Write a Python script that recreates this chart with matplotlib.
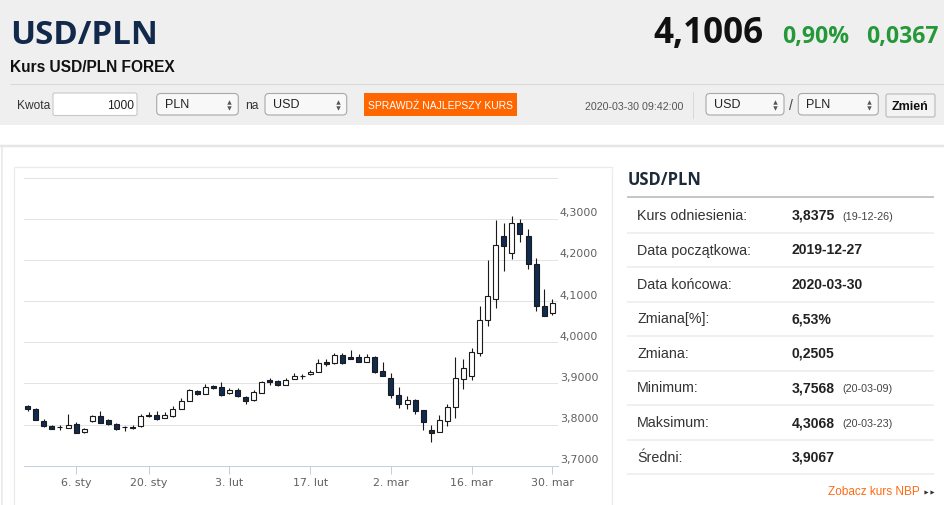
import numpy as np
import matplotlib
matplotlib.use('Agg')
import matplotlib.pyplot as plt
from matplotlib.patches import Rectangle, FancyBboxPatch
from matplotlib import transforms
from matplotlib import font_manager

# USD/PLN daily candles, 2019-12-27 .. 2020-03-30
opens = [3.845, 3.837, 3.809, 3.797, 3.795, 3.792, 3.802, 3.781, 3.808, 3.821,
         3.810, 3.801, 3.795, 3.795, 3.796, 3.824, 3.824, 3.816, 3.820, 3.838,
         3.858, 3.882, 3.875, 3.893, 3.892, 3.876, 3.885, 3.867, 3.860, 3.877,
         3.907, 3.905, 3.897, 3.911, 3.917, 3.922, 3.928, 3.953, 3.949, 3.968,
         3.965, 3.964, 3.953, 3.964, 3.930, 3.913, 3.872, 3.851, 3.859, 3.835,
         3.786, 3.783, 3.809, 3.842, 3.911, 3.919, 3.974, 4.055, 4.106, 4.258,
         4.217, 4.290, 4.258, 4.191, 4.087, 4.070]
highs = [3.848, 3.839, 3.814, 3.798, 3.799, 3.826, 3.806, 3.791, 3.824, 3.834,
         3.814, 3.803, 3.796, 3.800, 3.826, 3.831, 3.832, 3.830, 3.846, 3.865,
         3.887, 3.885, 3.899, 3.896, 3.904, 3.889, 3.888, 3.870, 3.883, 3.906,
         3.913, 3.909, 3.913, 3.925, 3.923, 3.932, 3.960, 3.960, 3.973, 3.973,
         3.982, 3.972, 3.972, 3.966, 3.952, 3.926, 3.892, 3.870, 3.861, 3.836,
         3.799, 3.824, 3.850, 3.964, 3.959, 3.986, 4.087, 4.199, 4.297, 4.289,
         4.307, 4.298, 4.276, 4.205, 4.130, 4.104]
lows = [3.832, 3.811, 3.795, 3.789, 3.787, 3.791, 3.779, 3.780, 3.807, 3.803,
        3.800, 3.787, 3.785, 3.790, 3.795, 3.818, 3.811, 3.815, 3.819, 3.837,
        3.857, 3.872, 3.874, 3.887, 3.870, 3.874, 3.867, 3.850, 3.858, 3.876,
        3.895, 3.894, 3.895, 3.910, 3.911, 3.920, 3.927, 3.943, 3.947, 3.947,
        3.959, 3.951, 3.951, 3.926, 3.918, 3.865, 3.839, 3.838, 3.826, 3.786,
        3.757, 3.782, 3.796, 3.817, 3.887, 3.908, 3.966, 4.040, 4.083, 4.172,
        4.201, 4.243, 4.178, 4.075, 4.063, 4.067]
closes = [3.837, 3.812, 3.796, 3.790, 3.793, 3.800, 3.780, 3.789, 3.821, 3.804,
          3.801, 3.790, 3.793, 3.792, 3.821, 3.821, 3.814, 3.822, 3.838, 3.858,
          3.883, 3.874, 3.892, 3.888, 3.871, 3.885, 3.869, 3.858, 3.879, 3.904,
          3.903, 3.896, 3.909, 3.918, 3.918, 3.928, 3.950, 3.947, 3.968, 3.949,
          3.960, 3.952, 3.964, 3.927, 3.919, 3.871, 3.851, 3.859, 3.834, 3.806,
          3.780, 3.810, 3.842, 3.912, 3.937, 3.975, 4.053, 4.112, 4.236, 4.233,
          4.290, 4.262, 4.191, 4.087, 4.063, 4.096]

tick_idx = [6, 15, 25, 35, 45, 55, 65]
tick_lbl = ['6. sty', '20. sty', '3. lut', '17. lut', '2. mar', '16. mar', '30. mar']
grid_levels = [3.8, 3.9, 4.0, 4.1, 4.2, 4.3, 4.4]
label_levels = [3.7, 3.8, 3.9, 4.0, 4.1, 4.2, 4.3]

stat_names = ['Kurs odniesienia:', 'Data początkowa:', 'Data końcowa:', 'Zmiana[%]:',
              'Zmiana:', 'Minimum:', 'Maksimum:', 'Średni:']
stat_values = ['3,8375', '2019-12-27', '2020-03-30', '6,53%', '0,2505', '3,7568',
               '4,3068', '3,9067']
stat_dates = ['(19-12-26)', '', '', '', '', '(20-03-09)', '(20-03-23)', '']

PX = 0.72  # points per pixel at dpi 100
ARIAL = 'Liberation Sans'
OPEN = 'Open Sans'
navy = '#0f2b50'

# narrow face for the orange button, if the system has one
try:
    font_manager.findfont(font_manager.FontProperties(family='Liberation Sans Narrow'),
                          fallback_to_default=False)
    BTN_FONT, BTN_PX, BTN_W = 'Liberation Sans Narrow', 12.3, 'bold'
except Exception:
    BTN_FONT, BTN_PX, BTN_W = ARIAL, 10.4, 'normal'

fig = plt.figure(figsize=(9.45, 5.05), dpi=100)
bg = fig.add_axes([0, 0, 1, 1])
bg.set_xlim(0, 945)
bg.set_ylim(505, 0)
bg.axis('off')


def txt(x, y, s, px, **kw):
    kw.setdefault('family', ARIAL)
    kw.setdefault('va', 'baseline')
    bg.text(x, y, s, fontsize=px * PX, **kw)


def hline(y, x0, x1, c, w):
    bg.plot([x0, x1], [y, y], color=c, lw=w * PX, solid_capstyle='butt')


def select(x0, x1, label):
    bg.add_patch(FancyBboxPatch((x0, 93.5), x1 - x0, 21.5,
                                boxstyle='round,pad=0,rounding_size=4',
                                fc='#f8f8f8', ec='#a8a8a8', lw=0.8))
    txt(x0 + 8, 108.5, label, 12.5, color='#222')
    bg.plot([x1 - 9], [101.5], marker='^', ms=3.2, color='#555', mew=0)
    bg.plot([x1 - 9], [107.5], marker='v', ms=3.2, color='#555', mew=0)


# page background
bg.add_patch(Rectangle((0, 0), 945, 125, fc='#efefef', ec='none'))
hline(145.5, 0, 945, '#e6e6e6', 2.5)
bg.plot([1.5, 1.5], [147, 505], color='#e6e6e6', lw=1.5 * PX)
bg.add_patch(Rectangle((14, 167), 598, 345, fc='white', ec='#ebebeb', lw=1.2 * PX))

# header
txt(10, 44.5, 'USD/PLN', 33.2, family=OPEN, weight='bold', color='#13294b')
txt(10, 72.5, 'Kurs USD/PLN FOREX', 15.5, weight='bold', color='#111')
hline(84, 10, 945, '#d8d8d8', 1)

txt(653, 42.7, '4,1006', 35, family=OPEN, weight='bold', color='#111')
txt(782, 42.7, '0,90%', 23, family=OPEN, weight='bold', color='#25993a')
txt(939, 42.7, '0,0367', 23, family=OPEN, weight='bold', color='#25993a', ha='right')

# converter row
txt(17, 109.3, 'Kwota', 12, color='#333')
bg.add_patch(FancyBboxPatch((53, 93), 84, 22.5, boxstyle='round,pad=0,rounding_size=2',
                            fc='white', ec='#c8c8c8', lw=0.8))
txt(134, 109.3, '1000', 12, color='#222', ha='right')
select(156.7, 238.3, 'PLN')
txt(245, 109.3, 'na', 12, color='#333')
select(265, 346.7, 'USD')
bg.add_patch(Rectangle((364.3, 92.7), 152.7, 23.3, fc='#ff6600', ec='none'))
txt(441, 108.6, 'SPRAWDŹ NAJLEPSZY KURS', BTN_PX, family=BTN_FONT, weight=BTN_W,
    color='white', ha='center')

txt(683, 109.5, '2020-03-30 09:42:00', 10.6, color='#555', ha='right')
bg.plot([693.3, 693.3], [92, 118], color='#d8d8d8', lw=1 * PX)
select(706, 784, 'USD')
txt(791, 109.5, '/', 14, color='#444', ha='center')
select(798.3, 878.3, 'PLN')
bg.add_patch(FancyBboxPatch((886, 94), 49, 23, boxstyle='round,pad=0,rounding_size=2',
                            fc='#f3f3f3', ec='#b8b8b8', lw=0.8))
txt(910.5, 110, 'Zmień', 12.5, weight='bold', color='#111', ha='center')

# right statistics panel
txt(627.3, 185, 'USD/PLN', 16.5, family=OPEN, weight='bold', color='#1d2a3a')
hline(197.3, 627, 934, '#c6c6c6', 2)
for i, (name, val, dt) in enumerate(zip(stat_names, stat_values, stat_dates)):
    yb = 220 + 34.5 * i
    txt(637.3, yb, name, 14.2, color='#333')
    txt(791.3, yb, val, 14, weight='bold', color='#222')
    if dt:
        txt(842.3, yb, dt, 10.7, color='#444')
    hline(232.7 + 34.5 * i, 627, 934, '#ececec', 1.5)
txt(920, 495, 'Zobacz kurs NBP', 11.7, color='#ff6a13', ha='right')
bg.plot([926, 931.5], [491.5, 491.5], ls='none', marker='>', ms=3, color='#333', mew=0)

# candlestick chart
ax = fig.add_axes([24 / 945, (505 - 465.7) / 505, 534 / 945, (465.7 - 177.3) / 505])
ax.patch.set_alpha(0)
o = np.array(opens)
h = np.array(highs)
l = np.array(lows)
c = np.array(closes)
x = np.arange(len(o))
up = c >= o
body_lo = np.minimum(o, c)
body_h = np.maximum(np.abs(c - o), 0.0012)
ax.vlines(x, l, h, color='#1a1a1a', lw=0.8, zorder=2)
ax.bar(x, body_h, bottom=body_lo, width=0.62, color=np.where(up, 'white', navy),
       edgecolor='#1a1a1a', lw=0.8, zorder=3)

ax.set_xlim(-0.46, 65.71)
ax.set_ylim(3.7, 4.4005)
ax.set_yticks(grid_levels)
ax.set_yticklabels([])
ax.tick_params(axis='y', length=0)
ax.grid(axis='y', color='#e3e3e3', lw=1 * PX)
ax.set_axisbelow(True)
for side in ['top', 'right', 'left']:
    ax.spines[side].set_visible(False)
ax.spines['bottom'].set_color('#c0d0e0')
ax.spines['bottom'].set_linewidth(1 * PX)
ax.set_xticks(tick_idx)
ax.set_xticklabels(tick_lbl)
ax.tick_params(axis='x', length=8 * PX, width=1 * PX, color='#c0d0e0',
               labelcolor='#606060', labelsize=11 * PX, pad=3)

lab_tr = transforms.blended_transform_factory(ax.transAxes, ax.transData) + \
    transforms.ScaledTranslation(0.02, 0.055, fig.dpi_scale_trans)
for v in label_levels:
    ax.text(1.0, v, ('%.4f' % v).replace('.', ','), transform=lab_tr,
            fontsize=11 * PX, color='#606060', va='center', ha='left')

fig.savefig('out.png', dpi=100)
